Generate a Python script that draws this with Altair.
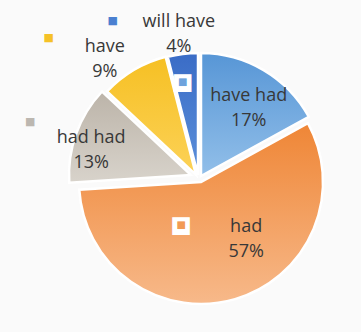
import math
import altair as alt
import pandas as pd

# ---- data ----
categories = ["have had", "had", "had had", "have", "will have"]
percents = [17, 57, 13, 9, 4]

# ---- styling (not data) ----
grad = {
    "have had": ["#5796d6", "#92bfe9"],
    "had": ["#ef8636", "#f7b98a"],
    "had had": ["#bcb4a9", "#d8d3cb"],
    "have": ["#f6c024", "#fcd257"],
    "will have": ["#3a6cc6", "#5b8fda"],
}
key_color = {
    "have had": "#6ea3dd",
    "had": "#f29a55",
    "had had": "#bcb7b0",
    "have": "#f5c127",
    "will have": "#4a7fd0",
}
# explode offsets per slice (px)
explode = {
    "have had": (2, -1),
    "had": (2, 5),
    "had had": (-8, -2),
    "have": (-3, -2),
    "will have": (-1, -2),
}
slice_r = {"have had": 123, "had": 122, "had had": 122, "have": 122, "will have": 122}
# label placement: radius along mid-angle, plus nudge (first line anchor)
label_pos = {
    "have had": (80, 9, -12),
    "had": (65, 29, -12),
    "had had": (105, -9, -3),
    "have": (140, -23, -9),
    "will have": (145, -2, -11),
}
# legend-key offset from the label block centre
key_off = {
    "have had": (-66, -14),
    "had": (-65, -2),
    "had had": (-61, -16),
    "have": (-56, -9),
    "will have": (-66, -1),
}
key_inside = {"have had": True, "had": True, "had had": False, "have": False, "will have": False}

W, H = 353, 325
PAD_L, PAD_T = 8, 5
CX, CY = 199, 177  # pie centre in page pixels
OX = CX - (PAD_L + W / 2)
OY = CY - (PAD_T + H / 2)

ends = pd.Series(percents).cumsum()
df = pd.DataFrame({
    "category": categories,
    "percent": percents,
    "start": ends - pd.Series(percents),
    "end": ends,
})
df["mid"] = (df["start"] + df["end"]) / 2
df["label"] = [f"{c}\n{p}%" for c, p in zip(categories, percents)]

tscale = alt.Scale(domain=[0, 100], range=[0, 2 * math.pi])
base = alt.Chart(df)

layers = []
for c in categories:
    g0, g1 = grad[c]
    ex, ey = explode[c]
    fill = alt.LinearGradient(
        gradient="linear",
        stops=[alt.GradientStop(color=g0, offset=0), alt.GradientStop(color=g1, offset=1)],
        x1=0, x2=0, y1=0, y2=1,
    )
    layers.append(
        base.transform_filter(alt.datum.category == c)
        .mark_arc(radius=slice_r[c], stroke="white", strokeWidth=2.5,
                  xOffset=OX + ex, yOffset=OY + ey, color=fill)
        .encode(theta=alt.Theta("start:Q", scale=tscale, stack=None),
                theta2="end:Q")
    )

for c in categories:
    r, dx, dy = label_pos[c]
    sub = base.transform_filter(alt.datum.category == c)
    th = alt.Theta("mid:Q", scale=tscale, stack=None)
    layers.append(
        sub.mark_text(radius=r, dx=dx, dy=dy, xOffset=OX, yOffset=OY,
                      font="Open Sans", fontSize=18, color="#383838",
                      lineBreak="\n", lineHeight=25, align="center", baseline="middle")
        .encode(theta=th, text="label:N")
    )
    kx, ky = key_off[c]
    kdx, kdy = dx + kx, dy + ky
    if key_inside[c]:
        layers.append(
            sub.mark_text(radius=r, dx=kdx, dy=kdy, xOffset=OX, yOffset=OY,
                          font="DejaVu Sans", fontSize=23, color="white",
                          align="center", baseline="middle", text="■")
            .encode(theta=th)
        )
        layers.append(
            sub.mark_text(radius=r, dx=kdx, dy=kdy, xOffset=OX, yOffset=OY,
                          font="DejaVu Sans", fontSize=10, color=key_color[c],
                          align="center", baseline="middle", text="■")
            .encode(theta=th)
        )
    else:
        layers.append(
            sub.mark_text(radius=r, dx=kdx, dy=kdy, xOffset=OX, yOffset=OY,
                          font="DejaVu Sans", fontSize=11, color=key_color[c],
                          align="center", baseline="middle", text="■")
            .encode(theta=th)
        )

chart = (
    alt.layer(*layers)
    .properties(width=W, height=H,
                autosize=alt.AutoSizeParams(type="none"),
                padding={"left": PAD_L, "top": PAD_T, "right": 0, "bottom": 2},
                background="#fafafa")
    .configure_view(fill="#efeeeb", stroke=None)
)

chart.save("out.html", embed_options={"renderer": "svg", "actions": False})
